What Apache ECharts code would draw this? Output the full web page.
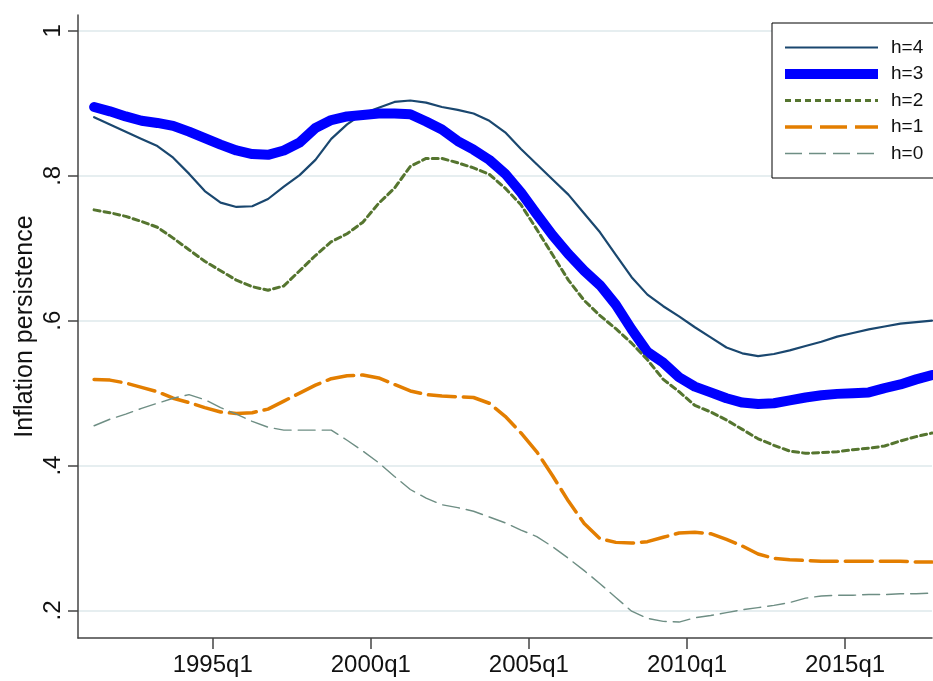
<!DOCTYPE html>
<html>
<head>
<meta charset="utf-8">
<title>Inflation persistence</title>
<script src="https://cdn.jsdelivr.net/npm/echarts@6/dist/echarts.min.js"></script>
<style>
  html, body { margin: 0; padding: 0; background: #fff; }
  #chart { width: 933px; height: 681px; }
</style>
</head>
<body>
<div id="chart"></div>
<script>
// half-yearly readings, 1991q2 .. 2017q4
const periods = [];
for (let y = 1991; y <= 2017; y++) periods.push(y + 'q2', y + 'q4');

const xTicks = ['1995q1', '2000q1', '2005q1', '2010q1', '2015q1'];
const yTicks = [0.2, 0.4, 0.6, 0.8, 1];

const h4 = [0.881, 0.871, 0.861, 0.851, 0.841, 0.825, 0.803, 0.779, 0.763, 0.757, 0.758, 0.768, 0.785, 0.801, 0.822, 0.851, 0.871, 0.886,
  0.894, 0.902, 0.904, 0.901, 0.895, 0.891, 0.886, 0.876, 0.860, 0.837, 0.816, 0.795, 0.774, 0.748, 0.722, 0.691, 0.660, 0.636, 0.620,
  0.606, 0.591, 0.577, 0.563, 0.555, 0.551, 0.554, 0.559, 0.565, 0.571, 0.578, 0.583, 0.588, 0.592, 0.596, 0.598, 0.600];
const h3 = [0.895, 0.889, 0.882, 0.876, 0.873, 0.869, 0.861, 0.852, 0.843, 0.835, 0.830, 0.829, 0.835, 0.846, 0.866, 0.877, 0.882, 0.884,
  0.886, 0.886, 0.885, 0.875, 0.864, 0.848, 0.836, 0.822, 0.803, 0.777, 0.747, 0.718, 0.692, 0.669, 0.649, 0.622, 0.588, 0.557, 0.542,
  0.522, 0.509, 0.501, 0.493, 0.487, 0.485, 0.486, 0.490, 0.494, 0.497, 0.499, 0.500, 0.501, 0.507, 0.512, 0.519, 0.525];
const h2 = [0.753, 0.749, 0.744, 0.737, 0.729, 0.714, 0.698, 0.682, 0.669, 0.656, 0.647, 0.642, 0.648, 0.669, 0.690, 0.709, 0.720, 0.736,
  0.762, 0.783, 0.813, 0.824, 0.824, 0.818, 0.811, 0.802, 0.783, 0.760, 0.726, 0.691, 0.656, 0.628, 0.607, 0.589, 0.569, 0.546, 0.519,
  0.502, 0.483, 0.474, 0.463, 0.450, 0.437, 0.428, 0.420, 0.417, 0.418, 0.419, 0.422, 0.424, 0.427, 0.434, 0.440, 0.445];
const h1 = [0.519, 0.518, 0.514, 0.508, 0.502, 0.493, 0.487, 0.480, 0.474, 0.472, 0.473, 0.478, 0.489, 0.500, 0.511, 0.520, 0.524, 0.525,
  0.521, 0.512, 0.503, 0.498, 0.496, 0.495, 0.494, 0.486, 0.468, 0.445, 0.419, 0.386, 0.351, 0.320, 0.299, 0.294, 0.293, 0.295, 0.301,
  0.307, 0.308, 0.306, 0.298, 0.289, 0.278, 0.272, 0.270, 0.269, 0.268, 0.268, 0.268, 0.268, 0.268, 0.268, 0.267, 0.267];
const h0 = [0.455, 0.464, 0.471, 0.479, 0.486, 0.493, 0.498, 0.491, 0.480, 0.471, 0.461, 0.453, 0.449, 0.449, 0.449, 0.449, 0.435, 0.420,
  0.404, 0.385, 0.367, 0.355, 0.346, 0.342, 0.337, 0.329, 0.321, 0.311, 0.302, 0.288, 0.272, 0.255, 0.237, 0.218, 0.199, 0.189, 0.185,
  0.184, 0.190, 0.193, 0.197, 0.201, 0.204, 0.207, 0.211, 0.217, 0.220, 0.221, 0.221, 0.222, 0.222, 0.223, 0.223, 0.224];

// '1995q1' -> 1995.0
const toNum = p => { const [y, q] = p.split('q'); return +y + (q - 1) / 4; };
const pairs = vals => periods.map((p, i) => [toNum(p), vals[i]]);

const font = '"Liberation Sans", Arial, sans-serif';

const styles = [
  { name: 'h=4', vals: h4, color: '#1a476f', width: 2.2, type: 'solid' },
  { name: 'h=3', vals: h3, color: '#0000ff', width: 10, type: 'solid' },
  { name: 'h=2', vals: h2, color: '#55752f', width: 3, type: [6, 4] },
  { name: 'h=1', vals: h1, color: '#e37e00', width: 3.5, type: [27, 8] },
  { name: 'h=0', vals: h0, color: '#6e8e84', width: 1.4, type: [17, 7] }
];

const chart = echarts.init(document.getElementById('chart'));
chart.setOption({
  backgroundColor: '#fff',
  textStyle: { fontFamily: font },
  grid: { left: 78, right: 1, top: 15, bottom: 43 },
  legend: {
    orient: 'vertical',
    left: 772,
    top: 23,
    padding: [15, 50, 15, 8],
    itemWidth: 93,
    itemHeight: 14,
    itemGap: 7.5,
    borderColor: '#000',
    borderWidth: 1,
    backgroundColor: '#fff',
    itemStyle: { opacity: 0 },
    textStyle: { fontSize: 19, color: '#111', padding: [0, 0, 0, 8] },
    data: styles.map(s => ({ name: s.name, lineStyle: { width: s.width, cap: 'butt' } }))
  },
  xAxis: {
    type: 'value',
    min: 1990.74,
    max: 2017.75,
    axisLine: { onZero: false, lineStyle: { color: '#444', width: 1.5 } },
    axisTick: { customValues: xTicks.map(toNum), length: 11, lineStyle: { color: '#444', width: 1.5 } },
    axisLabel: {
      customValues: xTicks.map(toNum),
      formatter: v => Math.round(v) + 'q1',
      fontSize: 24, color: '#111', margin: 15
    },
    splitLine: { show: false }
  },
  yAxis: {
    type: 'value',
    min: 0.162,
    max: 1.022,
    name: 'Inflation persistence',
    nameLocation: 'middle',
    nameRotate: 90,
    nameGap: 40,
    nameMoveOverlap: false,
    nameTextStyle: { fontSize: 25, color: '#111' },
    axisLine: { show: true, lineStyle: { color: '#444', width: 1.5 } },
    axisTick: { show: true, customValues: yTicks, length: 10, lineStyle: { color: '#444', width: 1.5 } },
    axisLabel: {
      customValues: yTicks,
      rotate: 90,
      fontSize: 24, color: '#111', margin: 13,
      formatter: v => (v === 1 ? '1' : String(+v.toFixed(1)).replace(/^0/, ''))
    },
    splitLine: { show: true, lineStyle: { color: '#e6eef0', width: 2 } }
  },
  series: styles.map(s => ({
    name: s.name,
    type: 'line',
    data: pairs(s.vals),
    showSymbol: false,
    symbol: 'none',
    animation: false,
    lineStyle: { color: s.color, width: s.width, type: s.type, cap: 'round', join: 'round' },
    itemStyle: { color: s.color }
  }))
});
window.addEventListener('resize', () => chart.resize());
</script>
</body>
</html>
